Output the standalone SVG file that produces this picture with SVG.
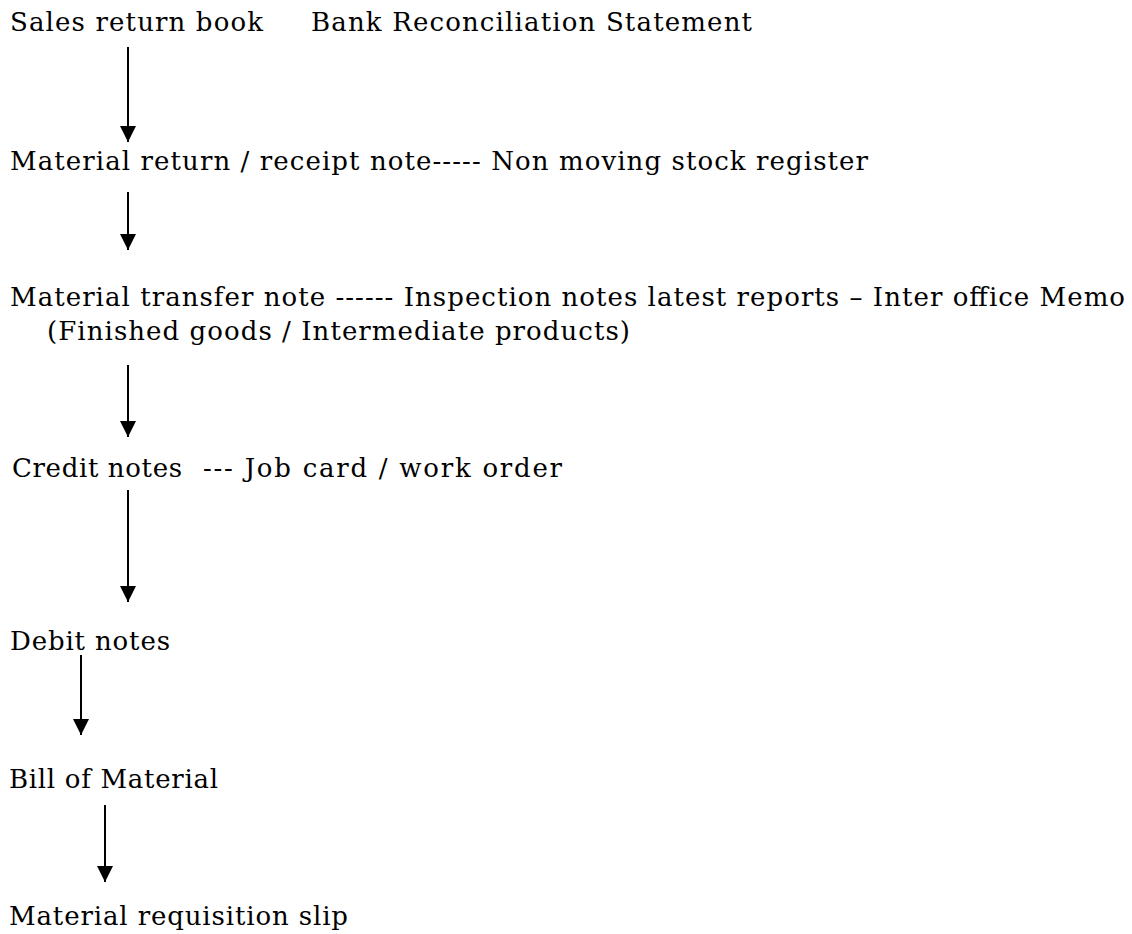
<svg xmlns="http://www.w3.org/2000/svg" width="1132" height="934" viewBox="0 0 1132 934">
<defs>
<style>
text{font-family:"DejaVu Serif","Liberation Serif",serif;font-size:26px;fill:#000;}
.c line{stroke:#000;stroke-width:2;}
</style>
<marker id="ah" markerWidth="8" markerHeight="8" refX="8" refY="4" orient="auto" markerUnits="strokeWidth">
<path d="M0,0 L8,4 L0,8 Z" fill="#000"/>
</marker>
</defs>
<rect width="1132" height="934" fill="#fff"/>
<g id="n1"><text x="10" y="31" textLength="253" lengthAdjust="spacing">Sales return book</text></g>
<g id="n1b"><text x="311" y="31" textLength="441" lengthAdjust="spacing">Bank Reconciliation Statement</text></g>
<g id="n2"><text x="10" y="170" textLength="858" lengthAdjust="spacing">Material return / receipt note----- Non moving stock register</text></g>
<g id="n3"><text x="10" y="306" textLength="1115" lengthAdjust="spacing">Material transfer note ------ Inspection notes latest reports – Inter office Memo</text>
<text x="47" y="340" textLength="583" lengthAdjust="spacing">(Finished goods / Intermediate products)</text></g>
<g id="n4"><text y="477"><tspan x="12" textLength="170" lengthAdjust="spacing">Credit notes</tspan><tspan x="203" textLength="359" lengthAdjust="spacing">--- Job card / work order</tspan></text></g>
<g id="n5"><text x="10" y="650" textLength="160" lengthAdjust="spacing">Debit notes</text></g>
<g id="n6"><text x="9" y="788" textLength="209" lengthAdjust="spacing">Bill of Material</text></g>
<g id="n7"><text x="9" y="925" textLength="339" lengthAdjust="spacing">Material requisition slip</text></g>
<g id="connectors" class="c">
<line x1="128" y1="47" x2="128" y2="142" marker-end="url(#ah)"/>
<line x1="128" y1="192" x2="128" y2="250" marker-end="url(#ah)"/>
<line x1="128" y1="365" x2="128" y2="437" marker-end="url(#ah)"/>
<line x1="128" y1="490" x2="128" y2="602" marker-end="url(#ah)"/>
<line x1="81" y1="655" x2="81" y2="735" marker-end="url(#ah)"/>
<line x1="105" y1="805" x2="105" y2="882" marker-end="url(#ah)"/>
</g>
</svg>
